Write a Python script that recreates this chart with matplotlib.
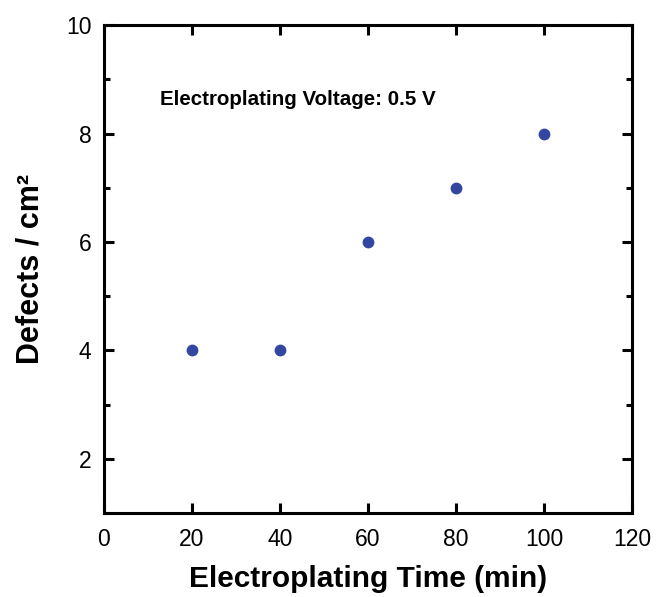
import matplotlib
matplotlib.use("Agg")
import matplotlib.pyplot as plt
from matplotlib.ticker import MultipleLocator

plt.rcParams['font.family'] = ['Liberation Sans', 'DejaVu Sans']

# data
time_min = [20, 40, 60, 80, 100]
defects = [4, 4, 6, 7, 8]

fig = plt.figure(figsize=(6.58, 5.97), dpi=100)
ax = fig.add_axes([0.158, 0.1407, 0.8025, 0.8173])

ax.plot(time_min, defects, 'o', color='#3346a0', markersize=8.5, markeredgewidth=0)

ax.set_xlim(0, 120)
ax.set_ylim(1, 10)
ax.xaxis.set_major_locator(MultipleLocator(20))
ax.yaxis.set_major_locator(MultipleLocator(2))
ax.yaxis.set_minor_locator(MultipleLocator(1))

for s in ax.spines.values():
    s.set_linewidth(2.2)
ax.tick_params(which='both', direction='in', top=True, right=True, width=2.2, labelsize=16.5)
ax.tick_params(axis='x', pad=11)
ax.tick_params(axis='y', pad=9)
ax.tick_params(which='major', length=7)
ax.tick_params(which='minor', length=4.5)

ax.set_xlabel('Electroplating Time (min)', fontsize=21.5, fontweight='bold', labelpad=10)
ax.set_ylabel('Defects / cm²', fontsize=22, fontweight='bold', labelpad=15)

ax.text(12.7, 8.62, 'Electroplating Voltage: 0.5 V', fontsize=14.8, fontweight='bold', va='center')

fig.savefig('out.png', dpi=100)
